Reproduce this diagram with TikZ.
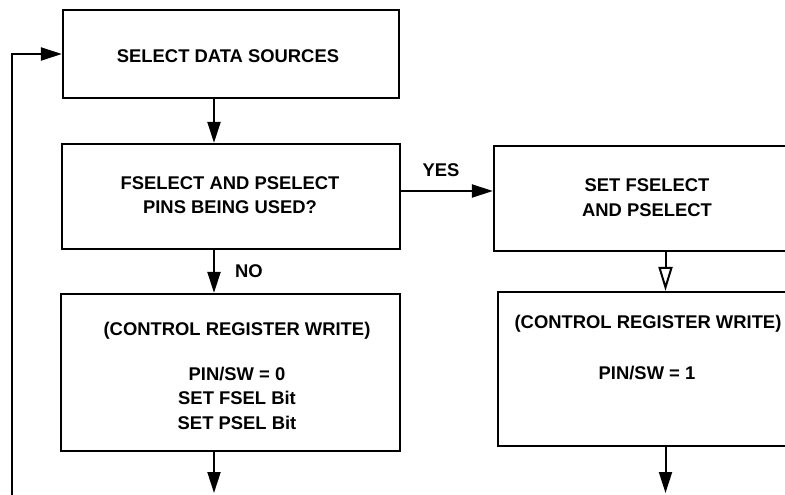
\documentclass[tikz,border=0pt]{standalone}
\usepackage{fontspec}
\setmainfont{Liberation Sans}
\usetikzlibrary{arrows.meta}
\begin{document}
\begin{tikzpicture}[x=1pt,y=-1pt,
   box/.style={draw=black, line width=2.2pt, inner sep=0pt},
   txt/.style={font=\fontsize{18.4}{24.5}\selectfont\bfseries, align=center, inner sep=0pt},
   arr/.style={line width=2pt, -{Triangle[length=21pt,width=13pt]}},
   oarr/.style={line width=2pt, -{Triangle[open,length=24pt,width=14pt,fill=white]}}]
   %% page in pixels, y going down
   \clip (0,0) rectangle (785,495);

   \foreach \n/\cx/\cy/\w/\h in
   { sel/231/54/336/88,
     pins/231/196.5/338/105,
     cregA/230.5/372.5/339/157,
     setsel/647/198.5/306/105,
     cregB/647/369/298/154
   }
   {
       \node[box, minimum width=\w pt, minimum height=\h pt] (\n) at (\cx,\cy) {};
   };

   \node[txt] (selT) at (228,56) {SELECT DATA SOURCES};
   \node[txt] (pinsT) at (230,195) {FSELECT AND PSELECT\\PINS BEING USED?};
   \node[txt] (setselT) at (647,197.5) {SET FSELECT\\AND PSELECT};
   \node[txt] (cregAT) at (237,331) {(CONTROL REGISTER WRITE)};
   \node[txt] (cregAB) at (237,398) {PIN/SW = 0\\SET FSEL Bit\\SET PSEL Bit};
   \node[txt] (cregBT) at (648,324) {(CONTROL REGISTER WRITE)};
   \node[txt] (cregBB) at (647,373.5) {PIN/SW = 1};
   \node[txt] (yes) at (441,170) {YES};
   \node[txt] (no) at (249,271) {NO};

   \coordinate (colL) at (214,0);
   \coordinate (colR) at (665.5,0);
   \coordinate (outL) at (214,493);
   \coordinate (outR) at (665.5,493);
   \coordinate (loopB) at (12,500);

   \draw[arr] (sel.south -| colL) -- (pins.north -| colL);
   \draw[arr] (pins.south -| colL) -- (cregA.north -| colL);
   \draw[arr] (cregA.south -| colL) -- (outL);
   \draw[arr] (pins.east |- 0,191) -- (setsel.west |- 0,191);
   \draw[oarr] (setsel.south -| colR) -- (cregB.north -| colR);
   \draw[arr] (cregB.south -| colR) -- (outR);
   \draw[arr] (loopB) |- (sel.west);
\end{tikzpicture}
\end{document}
